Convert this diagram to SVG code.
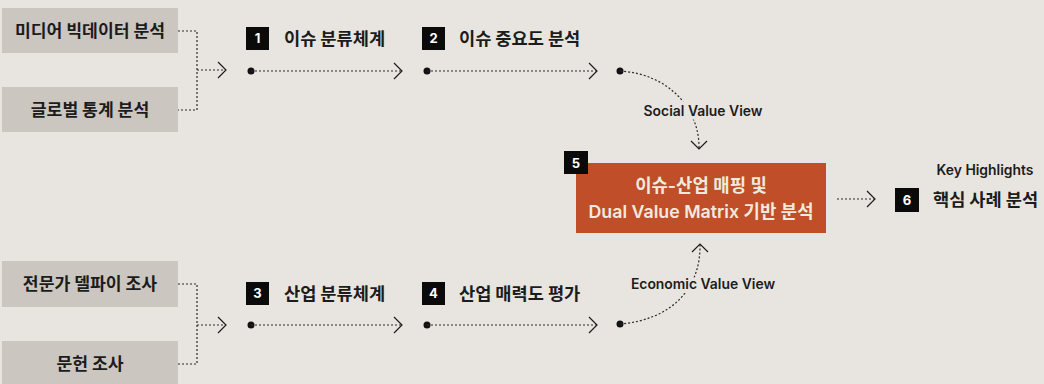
<svg xmlns="http://www.w3.org/2000/svg" width="1044" height="384" viewBox="0 0 1044 384">
<style>
.bg{fill:#e8e5e0}
.src{fill:#cbc6bf}
.srct{font-family:"Noto Sans CJK KR","Noto Sans",sans-serif;font-weight:700;font-size:17.2px;fill:#1c1c1c;text-anchor:middle}
.sq{fill:#0a0a0a}
.num{font-family:Inter,"Liberation Sans",sans-serif;font-weight:700;font-size:13px;fill:#fff;text-anchor:middle}
.lbl{font-family:"Noto Sans CJK KR","Noto Sans",sans-serif;font-weight:700;font-size:17.6px;fill:#1c1c1c}
.view{font-family:Inter,"Noto Sans CJK KR",sans-serif;font-weight:600;font-size:13.9px;fill:#1c1c1c;text-anchor:middle}
.dash{fill:none;stroke:#2a2a2a;stroke-width:1.2;stroke-dasharray:2 2}
.head{fill:none;stroke:#1c1c1c;stroke-width:1.2}
.dot{fill:#111}
.main{fill:#bf4e29}
.maint{font-family:Inter,"Noto Sans CJK KR",sans-serif;font-weight:600;font-size:17.8px;fill:#f1e9df;text-anchor:middle}
</style>
<rect class="bg" x="0" y="0" width="1044" height="384"/>

<g id="src-media"><rect class="src" x="2" y="8" width="176" height="45"/><text class="srct" x="90" y="37">미디어 빅데이터 분석</text></g>
<g id="src-global"><rect class="src" x="2" y="87" width="176" height="45"/><text class="srct" x="90" y="116">글로벌 통계 분석</text></g>
<g id="src-expert"><rect class="src" x="2" y="261" width="176" height="46"/><text class="srct" x="90" y="290">전문가 델파이 조사</text></g>
<g id="src-lit"><rect class="src" x="2" y="341" width="176" height="46"/><text class="srct" x="90" y="370">문헌 조사</text></g>

<g id="step1"><rect class="sq" x="246" y="27" width="23" height="23"/><text class="num" x="257.5" y="43">1</text><text class="lbl" x="284" y="45">이슈 분류체계</text></g>
<g id="step2"><rect class="sq" x="422" y="27" width="23" height="23"/><text class="num" x="433.5" y="43">2</text><text class="lbl" x="459" y="45">이슈 중요도 분석</text></g>
<g id="step3"><rect class="sq" x="246" y="282" width="23" height="23"/><text class="num" x="257.5" y="298">3</text><text class="lbl" x="284" y="300">산업 분류체계</text></g>
<g id="step4"><rect class="sq" x="422" y="282" width="23" height="23"/><text class="num" x="433.5" y="298">4</text><text class="lbl" x="459" y="300">산업 매력도 평가</text></g>

<g id="step5">
<rect class="main" x="576" y="163" width="250" height="70"/>
<text class="maint" x="701" y="192">이슈-산업 매핑 및</text>
<text class="maint" x="701" y="218">Dual Value Matrix 기반 분석</text>
<rect class="sq" x="564" y="151" width="24" height="23"/><text class="num" x="576" y="167.5">5</text>
</g>

<g id="step6">
<text class="view" x="985" y="175">Key Highlights</text>
<rect class="sq" x="895" y="188" width="24" height="24"/><text class="num" x="907" y="204.5">6</text>
<text class="lbl" x="933" y="206">핵심 사례 분석</text>
</g>

<g id="connectors">
<path class="dash" d="M178,31 H197 V110 H178 M197,70 H226"/>
<polyline class="head" points="218,62 226,70 218,78"/>
<path class="dash" d="M178,284 H197 V364 H178 M197,325 H226"/>
<polyline class="head" points="218,317 226,325 218,333"/>

<circle class="dot" cx="251" cy="71" r="3.5"/><path class="dash" d="M251,71 H402"/><polyline class="head" points="394,63 402,71 394,79"/>
<circle class="dot" cx="427" cy="71" r="3.5"/><path class="dash" d="M427,71 H597"/><polyline class="head" points="589,63 597,71 589,79"/>
<circle class="dot" cx="251" cy="325" r="3.5"/><path class="dash" d="M251,325 H402"/><polyline class="head" points="394,317 402,325 394,333"/>
<circle class="dot" cx="427" cy="325" r="3.5"/><path class="dash" d="M427,325 H597"/><polyline class="head" points="589,317 597,325 589,333"/>

<circle class="dot" cx="620" cy="71" r="3.5"/>
<path class="dash" d="M620,71 C670,74 700,110 699,149"/>
<polyline class="head" points="691,141 699,149 707,141"/>
<circle class="dot" cx="620" cy="324" r="3.5"/>
<path class="dash" d="M620,324 C670,320 701,290 700,244"/>
<polyline class="head" points="692,252 700,244 708,252"/>

<path class="dash" d="M837,199 H875"/>
<polyline class="head" points="867,191 875,199 867,207"/>

<text class="view" x="703" y="116" style="stroke:#e8e5e0;stroke-width:7;paint-order:stroke">Social Value View</text>
<text class="view" x="703" y="289" style="stroke:#e8e5e0;stroke-width:7;paint-order:stroke">Economic Value View</text>
</g>
</svg>
